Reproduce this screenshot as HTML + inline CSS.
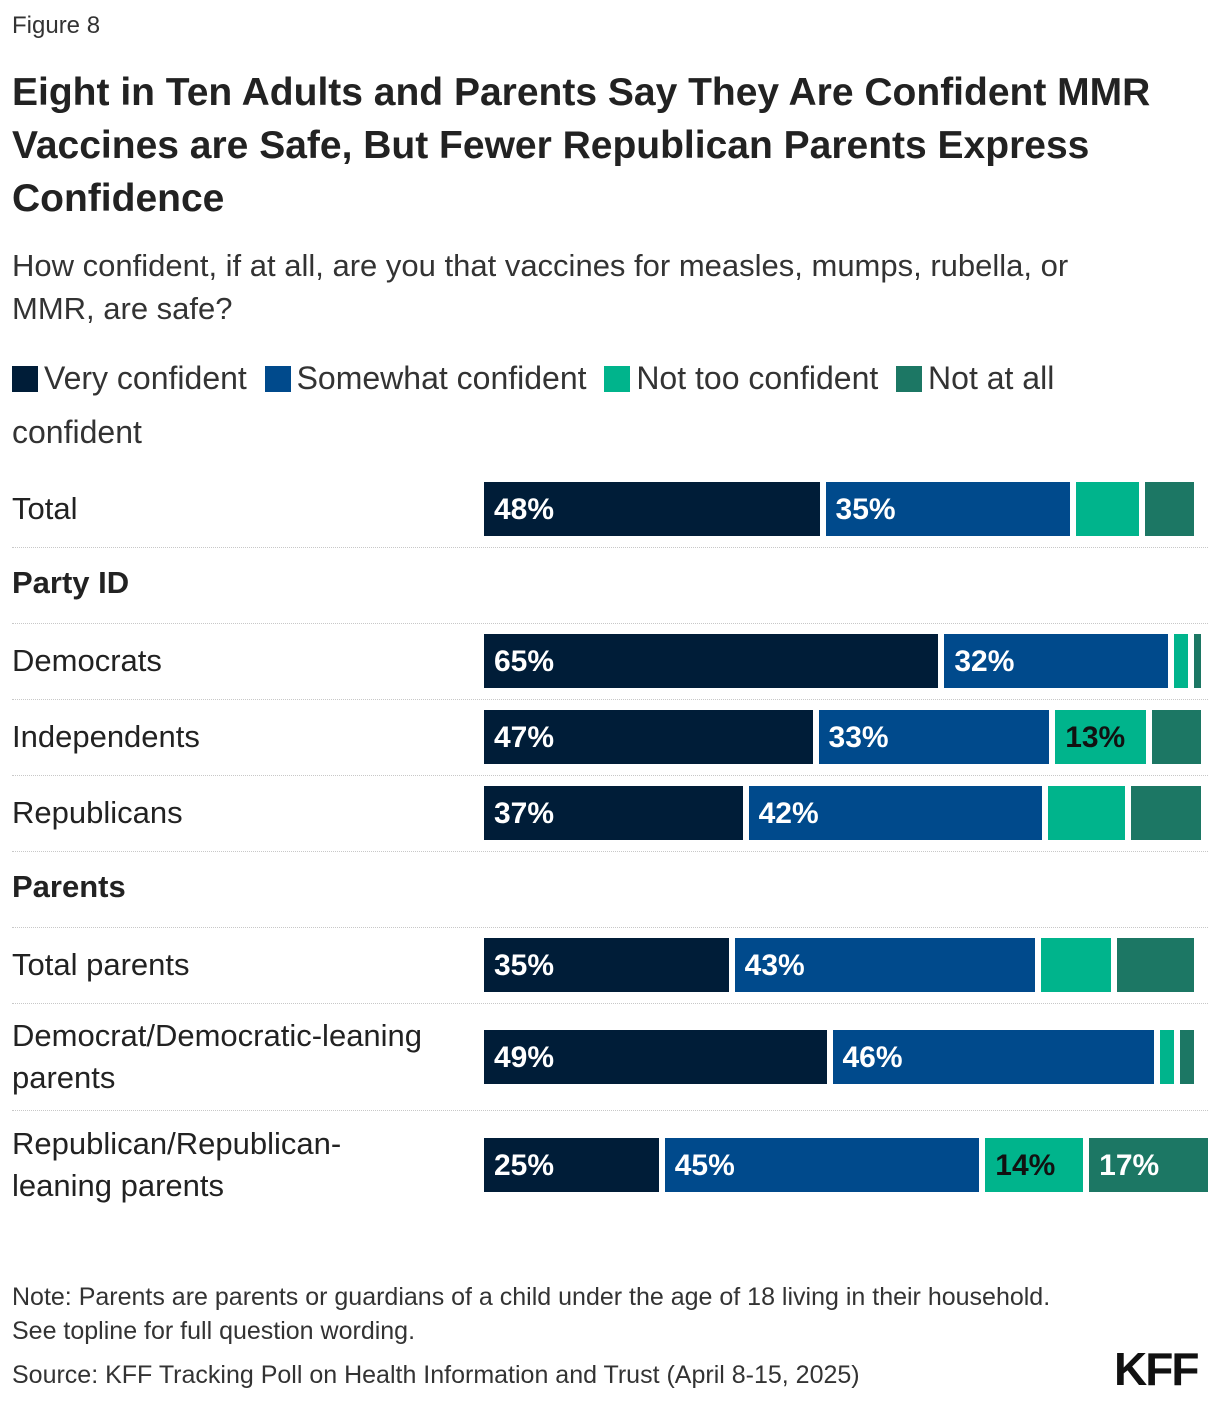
<!DOCTYPE html>
<html><head><meta charset="utf-8"><style>
body{margin:0;width:1220px;height:1402px;background:#fff;font-family:"Liberation Sans",sans-serif;color:#222;position:relative;overflow:hidden}
.abs{position:absolute}
.lbl{position:absolute;left:12px;font-size:31px;color:#222;line-height:42px}
.sep{position:absolute;left:12px;width:1196px;border-top:1.5px dotted #c8c8c8}
.seg{position:absolute;height:54px}
.val{position:absolute;font-size:30px;font-weight:bold;line-height:56px;padding-left:10px}
.sw{display:inline-block;width:26px;height:26px;vertical-align:-3px;margin-right:6px}
</style></head><body>
<div class="abs" style="left:12px;top:12px;font-size:24px;color:#333">Figure 8</div>
<div class="abs" style="left:12px;top:66px;width:1190px;font-size:39px;font-weight:bold;line-height:53px;color:#222">Eight in Ten Adults and Parents Say They Are Confident MMR Vaccines are Safe, But Fewer Republican Parents Express Confidence</div>
<div class="abs" style="left:12px;top:244px;width:1110px;font-size:31px;line-height:43px;color:#333">How confident, if at all, are you that vaccines for measles, mumps, rubella, or MMR, are safe?</div>
<div class="abs" style="left:12px;top:351px;width:1150px;font-size:32px;line-height:54px;color:#333">
<span><span class="sw" style="background:#001d38"></span>Very confident</span>&nbsp;
<span><span class="sw" style="background:#004a8c"></span>Somewhat confident</span>&nbsp;
<span><span class="sw" style="background:#00b48c"></span>Not too confident</span>&nbsp;
<span><span class="sw" style="background:#1c7764"></span>Not at all confident</span></div>
<div id="chart"></div>
<div class="abs" style="left:12px;top:1280px;font-size:25px;line-height:34px;color:#333">Note: Parents are parents or guardians of a child under the age of 18 living in their household.<br>See topline for full question wording.</div>
<div class="abs" style="left:12px;top:1358px;font-size:25px;line-height:34px;color:#333">Source: KFF Tracking Poll on Health Information and Trust (April 8-15, 2025)</div>
<div class="abs" style="left:1114px;top:1342px;font-size:46px;font-weight:900;color:#111;letter-spacing:-2px">KFF</div>
<script>
const categories=["Total","Democrats","Independents","Republicans","Total parents","Democrat/Democratic-leaning parents","Republican/Republican- leaning parents"];
const veryConfident=[48,65,47,37,35,49,25];
const somewhatConfident=[35,32,33,42,43,46,45];
const notTooConfident=[9,2,13,11,10,2,14];
const notAtAll=[7,1,7,10,11,2,17];
const shownLabels=[[true,true,false,false],[true,true,false,false],[true,true,true,false],[true,true,false,false],[true,true,false,false],[true,true,false,false],[true,true,true,true]];
const rowTops=[482,634,710,786,938,1030,1138];
const headers=[["Party ID",562],["Parents",866]];
const seps=[547,623,699,775,851,927,1003,1110];
const colors=["#001d38","#004a8c","#00b48c","#1c7764"];
const textColors=["#fff","#fff","#111","#fff"];
const chart=document.getElementById('chart');
const x0=484,scale=6.99,gap=6;
seps.forEach(y=>{const d=document.createElement('div');d.className='sep';d.style.top=y+'px';

chart.appendChild(d);});
headers.forEach(h=>{const d=document.createElement('div');d.className='lbl';d.style.top=h[1]+'px';d.style.fontWeight='bold';d.textContent=h[0];

chart.appendChild(d);});
categories.forEach((c,i)=>{
 const l=document.createElement('div');l.className='lbl';l.style.width=(c.indexOf('Republican-')>=0?'370px':'460px');l.textContent=c;
 const two=c.length>25;l.style.top=(rowTops[i]+27-(two?42:21))+'px';
 
 chart.appendChild(l);
 const vals=[veryConfident[i],somewhatConfident[i],notTooConfident[i],notAtAll[i]];
 let x=x0;
 vals.forEach((v,k)=>{const w=v*scale;const s=document.createElement('div');s.className='seg';
  s.style.left=x+'px';s.style.top=rowTops[i]+'px';s.style.width=w+'px';s.style.background=colors[k];
  
  
  if(shownLabels[i][k]){const t=document.createElement('span');t.className='val';t.style.color=textColors[k];t.textContent=v+'%';s.appendChild(t);}
  chart.appendChild(s);x+=w+gap;});
});
</script>
</body></html>
